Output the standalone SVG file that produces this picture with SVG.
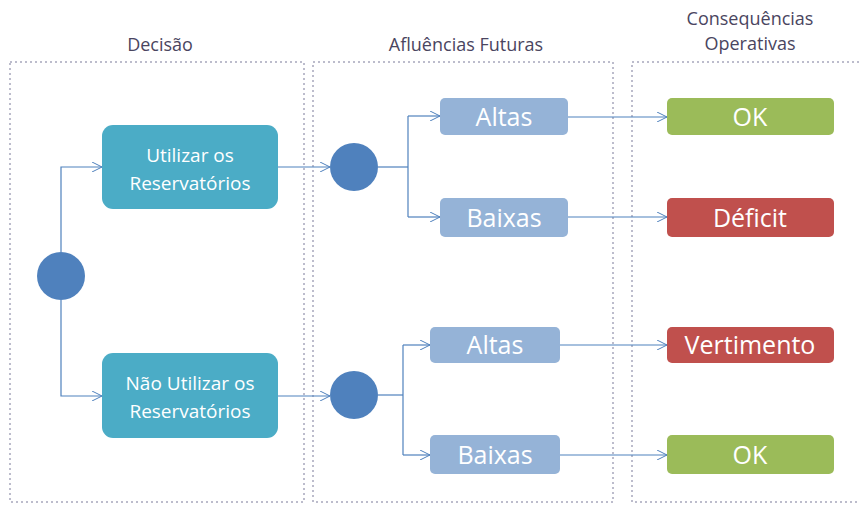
<svg xmlns="http://www.w3.org/2000/svg" width="859" height="508" viewBox="0 0 859 508">
<defs>
<marker id="arr" viewBox="0 0 10 10" refX="10" refY="5" markerWidth="10" markerHeight="10" markerUnits="userSpaceOnUse" orient="auto">
<path d="M0,0 L10,5 L0,10" fill="none" stroke="#4f81bd" stroke-width="1"/>
</marker>
</defs>
<style>
.lane{fill:none;stroke:#bcbccc;stroke-width:2;stroke-dasharray:2 3}
.title{font-family:"Open Sans","Liberation Sans",sans-serif;font-size:18px;fill:#4a4560;text-anchor:middle}
.dec rect{fill:#4bacc6}
.dec text{font-family:"Open Sans","Liberation Sans",sans-serif;font-size:19px;fill:#ffffff;text-anchor:middle}
.fut rect{fill:#95b3d7}
.res text,.fut text{font-family:"Open Sans","Liberation Sans",sans-serif;font-size:25px;fill:#ffffff;text-anchor:middle}
.ok rect{fill:#9bbb59}
.bad rect{fill:#c0504d}
.node circle{fill:#4f81bd}
.conn path{fill:none;stroke:#4f81bd;stroke-width:1.2}
</style>
<rect width="859" height="508" fill="#ffffff"/>
<g id="lanes">
<rect class="lane" x="10" y="62" width="294" height="440"/>
<rect class="lane" x="313" y="62" width="300" height="440"/>
<rect class="lane" x="632" y="62" width="240" height="440"/>
</g>
<g id="titles">
<text class="title" x="160" y="51">Decisão</text>
<text class="title" x="466" y="51">Afluências Futuras</text>
<text class="title" x="750" y="25">Consequências</text>
<text class="title" x="750" y="50">Operativas</text>
</g>
<g id="connectors" class="conn">
<path d="M61,252 V167 H102" marker-end="url(#arr)"/>
<path d="M61,300 V396 H102" marker-end="url(#arr)"/>
<path d="M278,167 H330" marker-end="url(#arr)"/>
<path d="M278,396 H330" marker-end="url(#arr)"/>
<path d="M378,167 H408"/>
<path d="M408,116 V217"/>
<path d="M408,116 H440" marker-end="url(#arr)"/>
<path d="M408,217 H440" marker-end="url(#arr)"/>
<path d="M378,395 H403"/>
<path d="M403,345 V455"/>
<path d="M403,345 H430" marker-end="url(#arr)"/>
<path d="M403,455 H430" marker-end="url(#arr)"/>
<path d="M568,117 H667" marker-end="url(#arr)"/>
<path d="M568,217 H667" marker-end="url(#arr)"/>
<path d="M560,345 H667" marker-end="url(#arr)"/>
<path d="M560,455 H667" marker-end="url(#arr)"/>
</g>
<g id="decision-root" class="node"><circle cx="61" cy="276" r="24"/></g>
<g id="utilizar" class="dec">
<rect x="102" y="125" width="176" height="84" rx="11"/>
<text x="190" y="162">Utilizar os</text>
<text x="190" y="190">Reservatórios</text>
</g>
<g id="nao-utilizar" class="dec">
<rect x="102" y="353" width="176" height="85" rx="11"/>
<text x="190" y="390">Não Utilizar os</text>
<text x="190" y="418">Reservatórios</text>
</g>
<g id="chance-1" class="node"><circle cx="354" cy="167" r="24"/></g>
<g id="chance-2" class="node"><circle cx="354" cy="395" r="24"/></g>
<g id="altas-1" class="fut">
<rect x="440" y="98" width="128" height="37" rx="5"/>
<text x="504" y="126">Altas</text>
</g>
<g id="baixas-1" class="fut">
<rect x="440" y="198" width="128" height="39" rx="5"/>
<text x="504" y="227">Baixas</text>
</g>
<g id="altas-2" class="fut">
<rect x="430" y="327" width="130" height="36" rx="5"/>
<text x="495" y="354">Altas</text>
</g>
<g id="baixas-2" class="fut">
<rect x="430" y="435" width="130" height="39" rx="5"/>
<text x="495" y="464">Baixas</text>
</g>
<g id="ok-1" class="res ok">
<rect x="667" y="98" width="167" height="37" rx="5"/>
<text x="750" y="126">OK</text>
</g>
<g id="deficit" class="res bad">
<rect x="667" y="198" width="167" height="39" rx="5"/>
<text x="750" y="227">Déficit</text>
</g>
<g id="vertimento" class="res bad">
<rect x="667" y="327" width="167" height="36" rx="5"/>
<text x="750" y="354">Vertimento</text>
</g>
<g id="ok-2" class="res ok">
<rect x="667" y="435" width="167" height="39" rx="5"/>
<text x="750" y="464">OK</text>
</g>
</svg>
